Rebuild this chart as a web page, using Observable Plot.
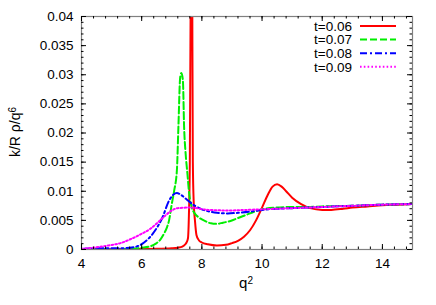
<!DOCTYPE html>
<html><head><meta charset="utf-8">
<script src="https://cdn.jsdelivr.net/npm/d3@7"></script>
<script src="https://cdn.jsdelivr.net/npm/@observablehq/plot@0.6"></script>
<style>
body{margin:0;background:#fff;font-family:"Liberation Sans",Arial,sans-serif;}
#wrap{position:relative;width:436px;height:305px;}
#wrap svg.leg{position:absolute;left:0;top:0;pointer-events:none;}
</style></head><body><div id="wrap"></div>
<script>
// ---- data ----
const seriesNames = ["t=0.06", "t=0.07", "t=0.08", "t=0.09"];
const seriesColors = ["#ff0000", "#00ee00", "#0000ff", "#ff00ff"];
const seriesDash = [null, "7,3", "7,3,2,3", "1.6,2.2"];

const xTicks = [4, 6, 8, 10, 12, 14];
const yTicks = [0, 0.005, 0.01, 0.015, 0.02, 0.025, 0.03, 0.035, 0.04];
const yTickLabels = ["0", "0.005", "0.01", "0.015", "0.02", "0.025", "0.03", "0.035", "0.04"];

const q06 = [4, 5, 6, 6.5, 7, 7.2, 7.35, 7.45, 7.5, 7.54, 7.57, 7.6, 7.63, 7.655, 7.68, 7.7, 7.73, 7.77, 7.82, 7.9, 8.0, 8.2, 8.5, 8.8, 9.0, 9.2, 9.4, 9.6, 9.8, 10.0, 10.2, 10.35, 10.5, 10.65, 10.8, 11.0, 11.3, 11.6, 12.0, 12.3, 12.7, 13.0, 13.5, 14, 14.5, 15];
const v06 = [0.00003, 0.00005, 0.0001, 0.00012, 0.0002, 0.0003, 0.0005, 0.0009, 0.0013, 0.002, 0.006, 0.015, 0.045, 0.09, 0.045, 0.015, 0.008, 0.005, 0.0025, 0.0016, 0.0012, 0.0009, 0.0007, 0.0008, 0.0011, 0.0015, 0.0022, 0.0033, 0.005, 0.0072, 0.0095, 0.0108, 0.0112, 0.0108, 0.0100, 0.0089, 0.0078, 0.0071, 0.0068, 0.0068, 0.0070, 0.0072, 0.0074, 0.0076, 0.0077, 0.0078];

const q07 = [4, 5, 5.5, 6, 6.25, 6.47, 6.62, 6.74, 6.84, 6.91, 7.0, 7.08, 7.17, 7.22, 7.28, 7.32, 7.37, 7.41, 7.46, 7.52, 7.58, 7.66, 7.76, 7.9, 8.1, 8.3, 8.5, 8.7, 8.95, 9.2, 9.5, 9.8, 10.0, 10.5, 11, 11.5, 12, 13, 14, 15];
const v07 = [0.00002, 0.00005, 0.0001, 0.0003, 0.0005, 0.001, 0.0017, 0.0027, 0.0038, 0.005, 0.0078, 0.0101, 0.0136, 0.021, 0.0296, 0.0303, 0.029, 0.021, 0.0165, 0.013, 0.0095, 0.0073, 0.0062, 0.0055, 0.0049, 0.0045, 0.0044, 0.0046, 0.0049, 0.0054, 0.0060, 0.0066, 0.0069, 0.0072, 0.0073, 0.0073, 0.0074, 0.0075, 0.0077, 0.0078];

const q08 = [4, 4.6, 5.2, 5.74, 6.08, 6.41, 6.69, 6.91, 7.05, 7.17, 7.3, 7.47, 7.74, 8.0, 8.19, 8.5, 8.86, 9.2, 9.6, 10.0, 10.5, 11, 12, 13, 14, 15];
const v08 = [0.0001, 0.0002, 0.0002, 0.0004, 0.0012, 0.003, 0.0055, 0.0084, 0.0094, 0.0097, 0.0094, 0.0087, 0.0076, 0.0069, 0.0066, 0.0063, 0.0062, 0.0063, 0.0065, 0.0068, 0.0070, 0.0071, 0.0073, 0.0075, 0.0077, 0.0078];

const q09 = [4, 4.5, 4.9, 5.3, 5.6, 6.0, 6.3, 6.55, 6.8, 7.0, 7.2, 7.6, 8.2, 8.9, 9.5, 10, 11, 12, 13, 14, 15];
const v09 = [0.0001, 0.0004, 0.0007, 0.0011, 0.0017, 0.0027, 0.0036, 0.0047, 0.0059, 0.0067, 0.0071, 0.0072, 0.0068, 0.0067, 0.0068, 0.0069, 0.0071, 0.0073, 0.0075, 0.0077, 0.0078];

const qs = [q06, q07, q08, q09];
const vs = [v06, v07, v08, v09];

// ---- build ----
const rows = qs.map((q, i) => q.map((x, j) => ({q: x, v: vs[i][j]})));
const xMinor = d3.range(4, 15.001, 0.4);
const yMinor = d3.range(0, 0.04001, 0.001);
const W = 436, H = 305, mL = 81, mR = 24, mT = 16, mB = 56;
const fh = H - mT - mB;
const fw = W - mL - mR;
const font = '"Liberation Sans", Arial, sans-serif';

const plot = Plot.plot({
  width: W, height: H,
  marginLeft: mL, marginRight: mR, marginTop: mT, marginBottom: mB,
  style: {fontFamily: font, fontSize: "13px", background: "#fff", color: "#000"},
  x: {domain: [4, 15]},
  y: {domain: [0, 0.04]},
  marks: [
    ...rows.map((r, i) => Plot.line(r, {x: "q", y: "v", stroke: seriesColors[i], strokeWidth: 2,
      strokeDasharray: seriesDash[i], curve: "monotone-x", clip: true})),
    Plot.frame({stroke: "#808080", strokeWidth: 1.2}),
    // inward ticks
    Plot.tickX(xMinor, {x: d => d, insetTop: fh - 2.5, stroke: "#000", strokeWidth: 1}),
    Plot.tickX(xMinor, {x: d => d, insetBottom: fh - 2.5, stroke: "#000", strokeWidth: 1}),
    Plot.tickX(xTicks, {x: d => d, insetTop: fh - 5, stroke: "#000", strokeWidth: 1}),
    Plot.tickX(xTicks, {x: d => d, insetBottom: fh - 5, stroke: "#000", strokeWidth: 1}),
    Plot.tickY(yMinor, {y: d => d, insetRight: fw - 2.5, stroke: "#000", strokeWidth: 1}),
    Plot.tickY(yMinor, {y: d => d, insetLeft: fw - 2.5, stroke: "#000", strokeWidth: 1}),
    Plot.tickY(yTicks, {y: d => d, insetRight: fw - 5, stroke: "#000", strokeWidth: 1}),
    Plot.tickY(yTicks, {y: d => d, insetLeft: fw - 5, stroke: "#000", strokeWidth: 1}),
    Plot.axisX({ticks: xTicks, tickSize: 0, tickPadding: 9, label: null, fontSize: 13.5}),
    Plot.axisY({ticks: yTicks, tickSize: 0, tickPadding: 8, label: null, fontSize: 13.5,
      tickFormat: d => yTickLabels[yTicks.indexOf(d)]})
  ]
});

const wrap = document.getElementById("wrap");
wrap.appendChild(plot);

// axis titles
const svg = d3.select(plot);
const yl = svg.append("text")
  .attr("transform", "translate(20,132) rotate(-90)")
  .attr("text-anchor", "middle")
  .style("font-family", font).style("font-size", "14px").attr("fill", "#000");
yl.append("tspan").text("k/R ρ/q");
yl.append("tspan").attr("dy", "-0.45em").style("font-size", "10px").text("6");

const xl = svg.append("text")
  .attr("x", 246).attr("y", 288)
  .attr("text-anchor", "middle")
  .style("font-family", font).style("font-size", "15px").attr("fill", "#000");
xl.append("tspan").text("q");
xl.append("tspan").attr("dy", "-0.45em").style("font-size", "10px").text("2");

// legend
const leg = d3.select(wrap).append("svg").attr("class", "leg")
  .attr("width", W).attr("height", H);
seriesNames.forEach((name, i) => {
  const yy = 26 + 13.6 * i;
  leg.append("text").attr("x", 352).attr("y", yy).attr("dy", "0.35em")
    .attr("text-anchor", "end").style("font-family", font).style("font-size", "13.5px")
    .attr("fill", "#000").text(name);
  leg.append("line").attr("x1", 360).attr("x2", 396).attr("y1", yy).attr("y2", yy)
    .attr("stroke", seriesColors[i]).attr("stroke-width", 2)
    .attr("stroke-dasharray", seriesDash[i]);
});
</script></body></html>
